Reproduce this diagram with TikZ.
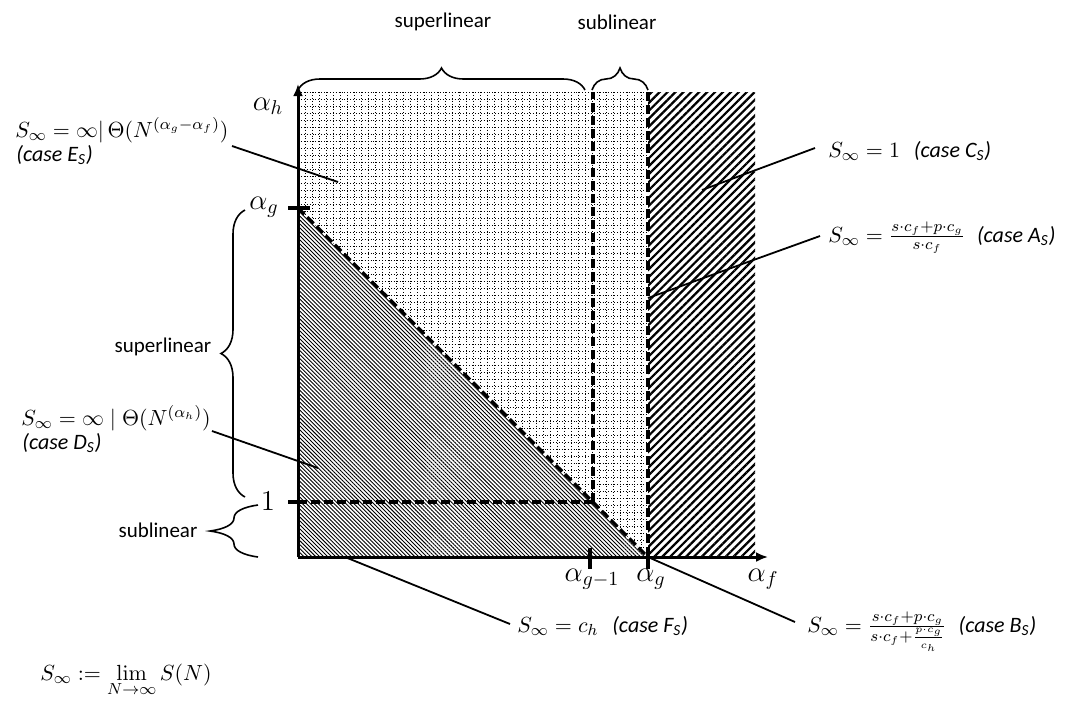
\documentclass[tikz,border=0pt]{standalone}
\usepackage[no-math]{fontspec}
\setmainfont{Carlito}
\usetikzlibrary{patterns.meta,decorations.pathreplacing,arrows.meta}
\begin{document}
\begin{tikzpicture}[x=0.5pt,y=-0.5pt,
  lbl/.style={font=\fontsize{10.5}{12}\selectfont, inner sep=0pt},
  ann/.style={font=\fontsize{11}{13}\selectfont, inner sep=0pt, anchor=base west},
  axlbl/.style={font=\fontsize{14}{16}\selectfont, inner sep=0pt},
  ptr/.style={line width=0.9pt},
  dsh/.style={line width=1.6pt, dash pattern=on 4.5pt off 2pt},
  axisln/.style={line width=1.5pt, -{Latex[length=6pt,width=5pt]}},
  tickln/.style={line width=1.7pt},
  brc/.style={decorate, decoration={brace, amplitude=#1}, line width=0.8pt},
  gridln/.style={line width=0.45pt, dash pattern=on 0.45pt off 1pt},
]
\useasboundingbox (0,0) rectangle (1068,720);
% key coordinates
\coordinate (O) at (298,557);
\coordinate (G) at (298,208);
\coordinate (Gx) at (648,557);
\coordinate (TL) at (298,92);
\coordinate (TR) at (648,92);
\coordinate (HB) at (755,557);
\coordinate (M) at (593,502);
\coordinate (M1) at (298,502);
\coordinate (Mt) at (593,92);
\coordinate (Ytip) at (298,84);
\coordinate (Xtip) at (768,557);
% regions
\fill[pattern={Lines[angle=-45,distance=1.4pt,line width=0.45pt]}] (G) -- (Gx) -- (O) -- cycle;
\fill[pattern={Lines[angle=45,distance=2.8pt,line width=1.1pt]}] (TR) rectangle (HB);
\begin{scope}
  \clip (TL) -- (TR) -- (Gx) -- (G) -- cycle;
  \foreach \x in {298,305,...,648} \draw[gridln] (\x,92) -- (\x,557);
  \foreach \y in {92,99,...,557} \draw[gridln] (298,\y) -- (648,\y);
\end{scope}
% dashed boundaries
\draw[dsh] (TR) -- (Gx);
\draw[dsh] (G) -- (Gx);
\draw[dsh] (M1) -- (M);
\draw[dsh] (M) -- (Mt);
% axes
\draw[axisln] (O) -- (Ytip);
\draw[axisln] (O) -- (Xtip);
% ticks
\draw[tickln] (288,208) -- (310,208);
\draw[tickln] (288,502) -- (300,502);
\draw[tickln] (590,548) -- (590,569);
\draw[tickln] (648,548) -- (648,569);
% axis labels
\node[axlbl] (ah) at (268,106) {$\alpha_h$};
\node[axlbl] (ag) at (264,207) {$\alpha_g$};
\node[axlbl] (one) at (268,501) {$1$};
\node[axlbl] (agm) at (592,579) {$\alpha_{g-1}$};
\node[axlbl] (agx) at (651,579) {$\alpha_g$};
\node[axlbl] (af) at (763,579) {$\alpha_f$};
% braces
\draw[brc=11pt] (298,90) -- (585,90);
\draw[brc=11pt] (592,90) -- (648,90);
\draw[brc=12pt] (245,497) -- (245,210);
\draw[brc=24pt] (258,557) -- (258,505);
\node[lbl] (tsup) at (443,22) {superlinear};
\node[lbl] (tsub) at (617,22) {sublinear};
\node[lbl] (lsup) at (163,347) {superlinear};
\node[lbl] (lsub) at (158,530) {sublinear};
% annotations
\node[ann] (eS) at (15,137) {$S_\infty = \infty|\,\Theta(N^{(\alpha_g-\alpha_f)})$};
\node[ann] (eSc) at (16,161) {\itshape(case E\textsubscript{S})};
\node[ann] (dS) at (21,425) {$S_\infty = \infty\;|\;\Theta(N^{(\alpha_h)})$};
\node[ann] (dSc) at (22,449) {\itshape(case D\textsubscript{S})};
\node[ann] (cS) at (828,157) {$S_\infty = 1$\hspace{7pt}{\itshape(case C\textsubscript{S})}};
\node[ann] (aS) at (828,242) {$S_\infty = \frac{s\cdot c_f+p\cdot c_g}{s\cdot c_f}$\hspace{6pt}{\itshape(case A\textsubscript{S})}};
\node[ann] (fS) at (517,632) {$S_\infty = c_h$\hspace{7pt}{\itshape(case F\textsubscript{S})}};
\node[ann] (bS) at (807,632) {$S_\infty = \frac{s\cdot c_f+p\cdot c_g}{s\cdot c_f+\frac{p\cdot c_g}{c_h}}$\hspace{6pt}{\itshape(case B\textsubscript{S})}};
\node[ann] (def) at (40,680) {$S_\infty \mathrel{:=} \displaystyle\lim_{N\to\infty} S(N)$};
% pointer lines
\coordinate (e1) at (232,146); \coordinate (e2) at (338,182);
\coordinate (d1) at (212,431); \coordinate (d2) at (318,468);
\coordinate (c1) at (815,148); \coordinate (c2) at (702,190);
\coordinate (a1) at (820,236); \coordinate (a2) at (648,298);
\coordinate (f1) at (510,624); \coordinate (f2) at (345,557);
\coordinate (b1) at (795,622); \coordinate (b2) at (648,557);
\draw[ptr] (e1) -- (e2);
\draw[ptr] (d1) -- (d2);
\draw[ptr] (c1) -- (c2);
\draw[ptr] (a1) -- (a2);
\draw[ptr] (f1) -- (f2);
\draw[ptr] (b1) -- (b2);
\end{tikzpicture}
\end{document}
